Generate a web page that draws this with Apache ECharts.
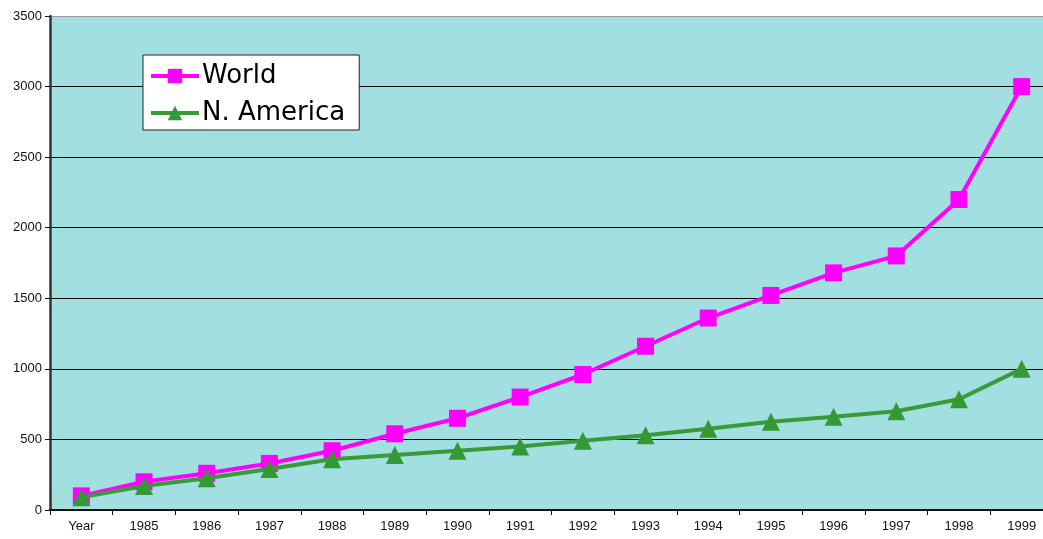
<!DOCTYPE html>
<html>
<head>
<meta charset="utf-8">
<script src="https://cdn.jsdelivr.net/npm/echarts@6/dist/echarts.min.js"></script>
<style>
  html, body { margin: 0; padding: 0; background: #fff; }
  #chart { width: 1043px; height: 539px; }
</style>
</head>
<body>
<div id="chart"></div>
<script>
// values
const categories = ["Year", "1985", "1986", "1987", "1988", "1989", "1990", "1991",
  "1992", "1993", "1994", "1995", "1996", "1997", "1998", "1999"];
const world = [100, 200, 260, 330, 420, 540, 650, 800, 960, 1160, 1360, 1520, 1680, 1800, 2200, 3000];
const northAmerica = [90, 170, 225, 290, 360, 390, 420, 450, 490, 530, 575, 625, 660, 700, 785, 1000];

// last split line (at 3500) is the light top border of the plot
const gridColors = ["#000", "#000", "#000", "#000", "#000", "#000", "#000", "#999"];

const chart = echarts.init(document.getElementById("chart"));

chart.setOption({
  animation: false,
  grid: {
    left: 50, top: 16, bottom: 29, width: 1003,
    outerBoundsMode: "none",
    containLabel: false,
    show: true,
    backgroundColor: "#A2DFE0",
    borderWidth: 0,
  },
  legend: {
    orient: "vertical",
    left: 143,
    top: 55,
    backgroundColor: "#fff",
    borderColor: "#222",
    borderWidth: 1,
    borderRadius: 0,
    padding: [6, 14, 2, 6],
    itemGap: 7,
    itemWidth: 48,
    itemHeight: 18,
    lineStyle: { width: 4 },
    textStyle: { fontFamily: "DejaVu Sans", fontSize: 26, lineHeight: 30, color: "#000", padding: [0, 0, 0, -2] },
    data: ["World", "N. America"],
  },
  xAxis: {
    type: "category",
    data: categories,
    boundaryGap: true,
    axisLine: { lineStyle: { color: "#111", width: 2 } },
    axisTick: { show: true, length: 5, alignWithLabel: false, lineStyle: { color: "#111" } },
    axisLabel: { color: "#111", fontFamily: "Liberation Sans", fontSize: 13, margin: 10 },
  },
  yAxis: {
    type: "value",
    min: 0,
    max: 3500,
    interval: 500,
    axisLine: { show: true, lineStyle: { color: "#333", width: 2.5 } },
    axisTick: { show: true, length: 5, lineStyle: { color: "#111" } },
    axisLabel: { color: "#111", fontFamily: "Liberation Sans", fontSize: 13, margin: 8, formatter: (v) => String(v) },
    splitLine: { lineStyle: { color: gridColors, width: 1 } },
  },
  series: [
    {
      name: "World",
      type: "line",
      data: world,
      symbol: "rect",
      symbolSize: 17,
      lineStyle: { color: "#FF00FF", width: 4 },
      itemStyle: { color: "#FF00FF" },
      z: 3,
    },
    {
      name: "N. America",
      type: "line",
      data: northAmerica,
      symbol: "triangle",
      symbolSize: 18,
      lineStyle: { color: "#3A9A3A", width: 4 },
      itemStyle: { color: "#339933" },
      z: 4,
    },
  ],
});
</script>
</body>
</html>
